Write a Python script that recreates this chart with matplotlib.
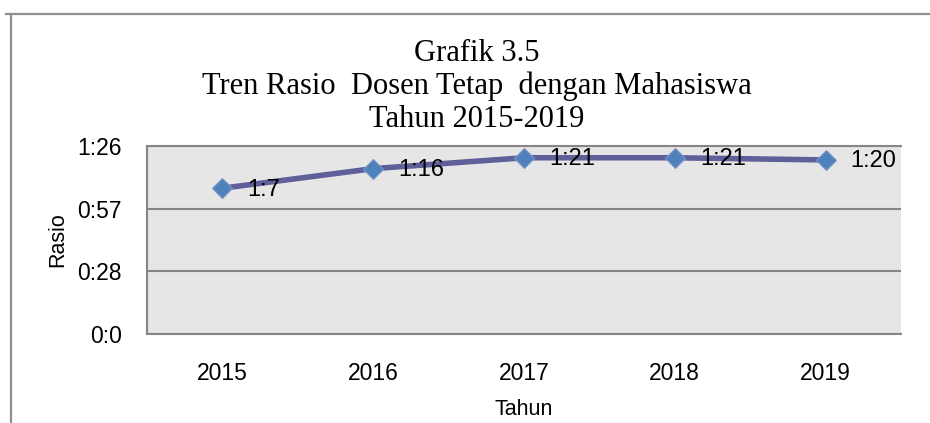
import matplotlib
matplotlib.use("Agg")
import matplotlib.pyplot as plt
from matplotlib.lines import Line2D

# data: ratio 1:x stored as h:mm time values (minutes)
tahun = ["2015", "2016", "2017", "2018", "2019"]
rasio_menit = [67, 76, 81, 81, 80]
label_rasio = ["1:7", "1:16", "1:21", "1:21", "1:20"]
yticks_menit = [0, 28.8, 57.6, 86.4]
yticks_label = ["0:0", "0:28", "0:57", "1:26"]
judul = ["Grafik 3.5", "Tren Rasio  Dosen Tetap  dengan Mahasiswa", "Tahun 2015-2019"]

SANS = "Liberation Sans"
SERIF = "Liberation Serif"

fig = plt.figure(figsize=(9.3, 4.23), dpi=100)
W, H = 930.0, 423.0

# outer chart frame (top and left edge visible)
fig.add_artist(Line2D([6 / W, 1.0], [1 - 14 / H, 1 - 14 / H], color="#909090", lw=1.6))
fig.add_artist(Line2D([11 / W, 11 / W], [0.0, 1 - 14 / H], color="#909090", lw=1.6))

ax = fig.add_axes([147 / W, 1 - 334 / H, 754 / W, 188 / H])
ax.set_facecolor("#e6e6e6")
x = list(range(len(tahun)))
ax.plot(x, rasio_menit, color="#5f5f99", lw=4, marker="D", ms=10,
        markerfacecolor="#4f81bd", markeredgecolor="#7b96c8", markeredgewidth=0.8,
        zorder=3, clip_on=False)
for xi, yi, lab in zip(x, rasio_menit, label_rasio):
    ax.annotate(lab, (xi, yi), xytext=(18, -1), textcoords="offset points",
                ha="left", va="center", fontsize=17, family=SANS, color="black", zorder=4)

ax.set_xlim(-0.5, 4.5)
ax.set_ylim(0, 86.4)
ax.set_yticks(yticks_menit)
ax.set_yticklabels(yticks_label)
ax.set_xticks(x)
ax.set_xticklabels(tahun)
ax.tick_params(length=0, labelsize=16.5)
ax.tick_params(axis="y", pad=18)
ax.tick_params(axis="x", pad=20)
for lab in ax.get_xticklabels() + ax.get_yticklabels():
    lab.set_family(SANS)
ax.grid(axis="y", color="#868686", lw=1.5)
ax.set_axisbelow(True)
for side in ["top", "left", "bottom"]:
    ax.spines[side].set_color("#868686")
    ax.spines[side].set_linewidth(1.5)
ax.spines["right"].set_visible(False)

ax.set_xlabel("Tahun", fontsize=15.5, family=SANS, labelpad=10)
ax.set_ylabel("Rasio", fontsize=15.5, family=SANS, labelpad=7)

for i, baris in enumerate(judul):
    fig.text(477 / W, 1 - (61 + 33 * i) / H, baris, ha="center", va="baseline",
             fontsize=22, family=SERIF)

fig.savefig("out.png", dpi=100, facecolor="white")
